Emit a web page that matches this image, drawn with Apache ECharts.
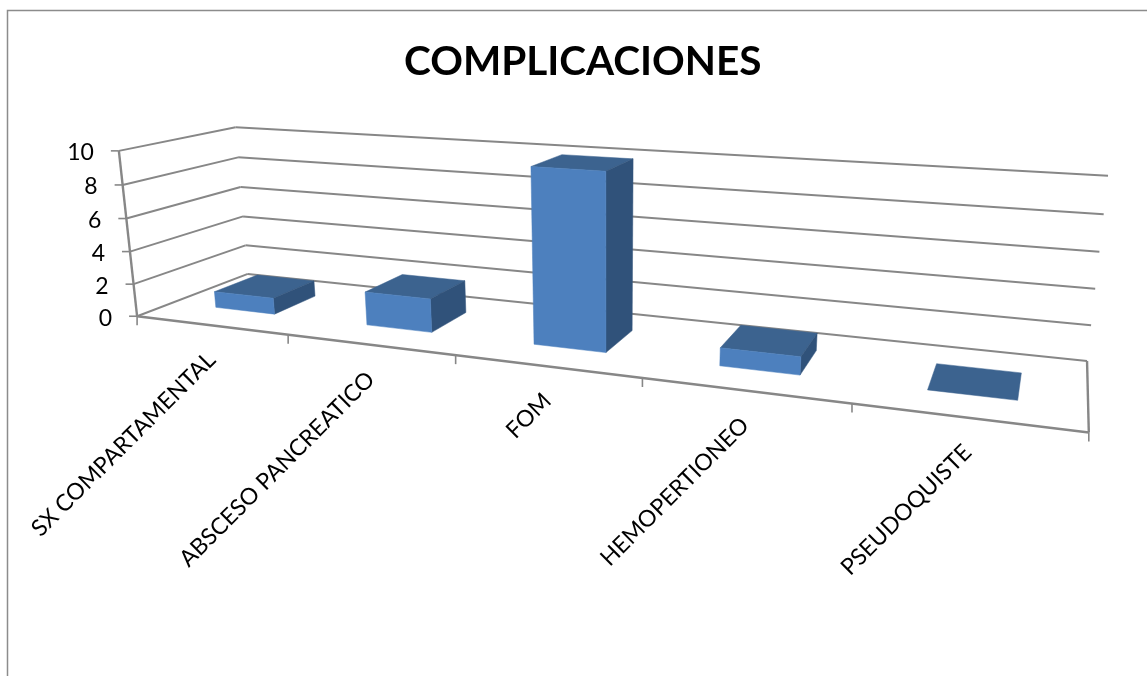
<!DOCTYPE html>
<html><head><meta charset="utf-8">
<style>html,body{margin:0;padding:0;background:#fff}#c{width:1147px;height:676px}</style>
<script src="https://cdn.jsdelivr.net/npm/echarts@6/dist/echarts.min.js"></script>
</head><body><div id="c"></div>
<script>
const chartTitle = 'COMPLICACIONES';
const categories = ['SX COMPARTAMENTAL','ABSCESO PANCREATICO','FOM','HEMOPERTIONEO','PSEUDOQUISTE'];
const values = [1,2,10,1,0];
const yTicks = [0,2,4,6,8,10];

// Perspective calibration: [category position, value, depth] -> screen pixel
const calibration = [
 [[0,0,0],[137,316]],[[5,0,0],[1089,432]],[[0,10,0],[119,151]],
 [[0,0,1],[248,274]],[[0,10,1],[235.5,127]],[[5,0,1],[1087,361]],[[5,10,1],[1108,176]],
 [[1,0,0],[288,335]],[[2,0,0],[456,355]],[[3,0,0],[642,378]],[[4,0,0],[852,404]]
];
const barHalfWidth = 0.2, depthNear = 0.3, depthFar = 0.7;

function solve(A,b){const n=b.length;for(let i=0;i<n;i++){let m=i;for(let r=i+1;r<n;r++)if(Math.abs(A[r][i])>Math.abs(A[m][i]))m=r;
 [A[i],A[m]]=[A[m],A[i]];[b[i],b[m]]=[b[m],b[i]];
 for(let r=i+1;r<n;r++){const f=A[r][i]/A[i][i];for(let c=i;c<n;c++)A[r][c]-=f*A[i][c];b[r]-=f*b[i];}}
 const x=new Array(n).fill(0);for(let i=n-1;i>=0;i--){let s=b[i];for(let c=i+1;c<n;c++)s-=A[i][c]*x[c];x[i]=s/A[i][i];}return x;}
const P=(function(){const rows=[],rhs=[];
 calibration.forEach(([w,s])=>{const X=w[0]/5,Y=w[1]/10,Z=w[2],u=s[0]/1000,v=s[1]/1000;
  rows.push([X,Y,Z,1,0,0,0,0,-u*X,-u*Y,-u*Z]);rhs.push(u);
  rows.push([0,0,0,0,X,Y,Z,1,-v*X,-v*Y,-v*Z]);rhs.push(v);});
 const n=11,A=[],b=[];for(let i=0;i<n;i++){A.push(new Array(n).fill(0));b.push(0);
  rows.forEach((r,k)=>{for(let j=0;j<n;j++)A[i][j]+=r[i]*r[j];b[i]+=r[i]*rhs[k];});}
 return solve(A,b);})();
function project(cx,val,z){const X=cx,Y=val,Z=z,d=P[8]*X+P[9]*Y+P[10]*Z+1;
 return [1000*(P[0]*X+P[1]*Y+P[2]*Z+P[3])/d,1000*(P[4]*X+P[5]*Y+P[6]*Z+P[7])/d];}
// normalised axis position from the hidden cartesian axes
function norm(params,api,cat,val){const c=api.coord([cat,val]),g=params.coordSys;
 return {x:(c[0]-g.x)/g.width,y:(g.y+g.height-c[1])/g.height};}

const LINE={stroke:'#878787',lineWidth:2,fill:null};
function seg(a,b,w){return {type:'line',shape:{x1:a[0],y1:a[1],x2:b[0],y2:b[1]},style:Object.assign({},LINE,w?{lineWidth:w}:{}),silent:true};}
function quad(pts,fill){return {type:'polygon',shape:{points:pts},style:{fill:fill,stroke:fill,lineWidth:0.5},silent:true};}

function renderWalls(params,api){
 const v=api.value(0),y=norm(params,api,0,v).y;
 const a=project(0,y,0),b=project(0,y,1),c=project(1,y,1);
 const ch=[seg(a,b),seg(b,c),seg([a[0]-8,a[1]],a,1.6)];
 ch.push({type:'text',style:{text:String(v),x:a[0]-25,y:a[1]+2,align:'right',verticalAlign:'middle',font:'23px Lato',fill:'#000'},silent:true});
 if(params.dataIndex===0){const d=project(1,0,0),e=project(1,0,1),t=project(0,1,0);
  ch.push(seg(a,d,2.4),seg(e,d,2.4),seg(t,a,2.4));}
 return {type:'group',children:ch};
}
function renderCats(params,api){
 const i=api.value(0),n=norm(params,api,i,0),hw=n.x-i/categories.length;
 const start=project(n.x-hw,0,0),mid=project(n.x,0,0),end=project(n.x+hw,0,0);
 const ch=[{type:'text',x:mid[0]+1,y:mid[1]+31,rotation:Math.PI/4,
   style:{text:categories[i],x:0,y:0,align:'right',verticalAlign:'middle',font:'23px Lato',fill:'#000'},silent:true},
  seg(end,[end[0],end[1]+9],1.6)];
 if(i===0)ch.push(seg(start,[start[0],start[1]+9],1.6));
 return {type:'group',children:ch};
}
function renderBar(params,api){
 const i=api.value(0),v=api.value(1),n=norm(params,api,i,v);
 const w=barHalfWidth/categories.length,x0=n.x-w,x1=n.x+w,y=n.y;
 const p=(x,yy,z)=>project(x,yy,z);
 const top=[p(x0,y,depthNear),p(x1,y,depthNear),p(x1,y,depthFar),p(x0,y,depthFar)];
 const side=[p(x1,0,depthNear),p(x1,y,depthNear),p(x1,y,depthFar),p(x1,0,depthFar)];
 const front=[p(x0,0,depthNear),p(x1,0,depthNear),p(x1,y,depthNear),p(x0,y,depthNear)];
 const ch=[quad(top,'#3C638F')];
 if(v>0)ch.push(quad(side,'#30527A'),quad(front,'#4D80BE'));
 return {type:'group',children:ch};
}

const chart=echarts.init(document.getElementById('c'),null,{renderer:'canvas'});
chart.setOption({
 animation:false,backgroundColor:'#fff',
 title:{text:chartTitle,left:404,top:41,padding:0,itemGap:0,
  textStyle:{fontFamily:'Lato',fontWeight:'bold',fontSize:40.5,color:'#000'}},
 graphic:[{type:'polyline',shape:{points:[[7.5,680],[7.5,10.5],[1150,10.5]]},style:{stroke:'#8c8c8c',lineWidth:1.5,fill:null},silent:true}],
 grid:{left:0,right:0,top:0,bottom:0},
 xAxis:{type:'category',data:categories,show:false},
 yAxis:{type:'value',min:0,max:10,interval:2,show:false},
 series:[
  {type:'custom',name:'walls',clip:false,z:1,data:yTicks.map(t=>[t]),encode:{y:0},renderItem:renderWalls,silent:true},
  {type:'custom',name:'categories',clip:false,z:2,data:categories.map((c,i)=>[i]),encode:{x:0},renderItem:renderCats,silent:true},
  {type:'custom',name:'Complicaciones',clip:false,z:3,data:values.map((v,i)=>[i,v]),encode:{x:0,y:1},renderItem:renderBar,silent:true}
 ]
});
</script></body></html>
